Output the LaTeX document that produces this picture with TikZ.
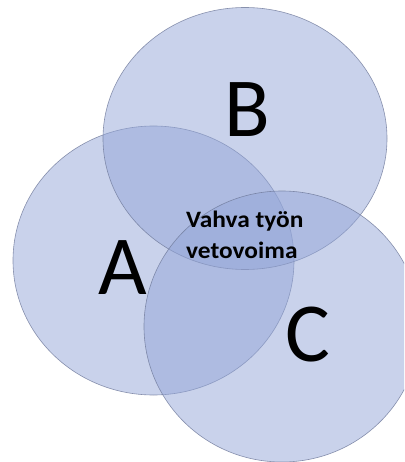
\documentclass[tikz,border=0pt]{standalone}
\usepackage{fontspec}
\setmainfont{Carlito}
\newfontfamily\corefont[FakeStretch=1.08]{Carlito}
\definecolor{setfill}{RGB}{147,165,215}
\definecolor{setline}{RGB}{112,122,155}
\begin{document}
\begin{tikzpicture}[x=1pt,y=-1pt,
  setcircle/.style={fill=setfill,fill opacity=0.5,draw=setline,draw opacity=0.8,line width=0.6pt},
  setlabel/.style={font=\fontsize{84}{84}\selectfont,inner sep=0pt},
  corelabel/.style={font=\corefont\bfseries\fontsize{23.5}{31}\selectfont,align=left,inner sep=0pt,anchor=west}]
\useasboundingbox (0,0) rectangle (404,462);
\clip (0,0) rectangle (404,462);
% the three overlapping sets
\path[setcircle] (153.5,260.5) ellipse [x radius=140.5, y radius=134.5];
\path[setcircle] (245,138.5) ellipse [x radius=142, y radius=131];
\path[setcircle] (282,326.5) ellipse [x radius=138, y radius=135.5];
% set labels
\node[setlabel] (B) at (247,110) {B};
\node[setlabel] (A) at (123,268) {A};
\node[setlabel] (C) at (308,335) {C};
% common core
\node[corelabel] (core) at (186,235) {Vahva työn\\vetovoima};
\end{tikzpicture}
\end{document}
